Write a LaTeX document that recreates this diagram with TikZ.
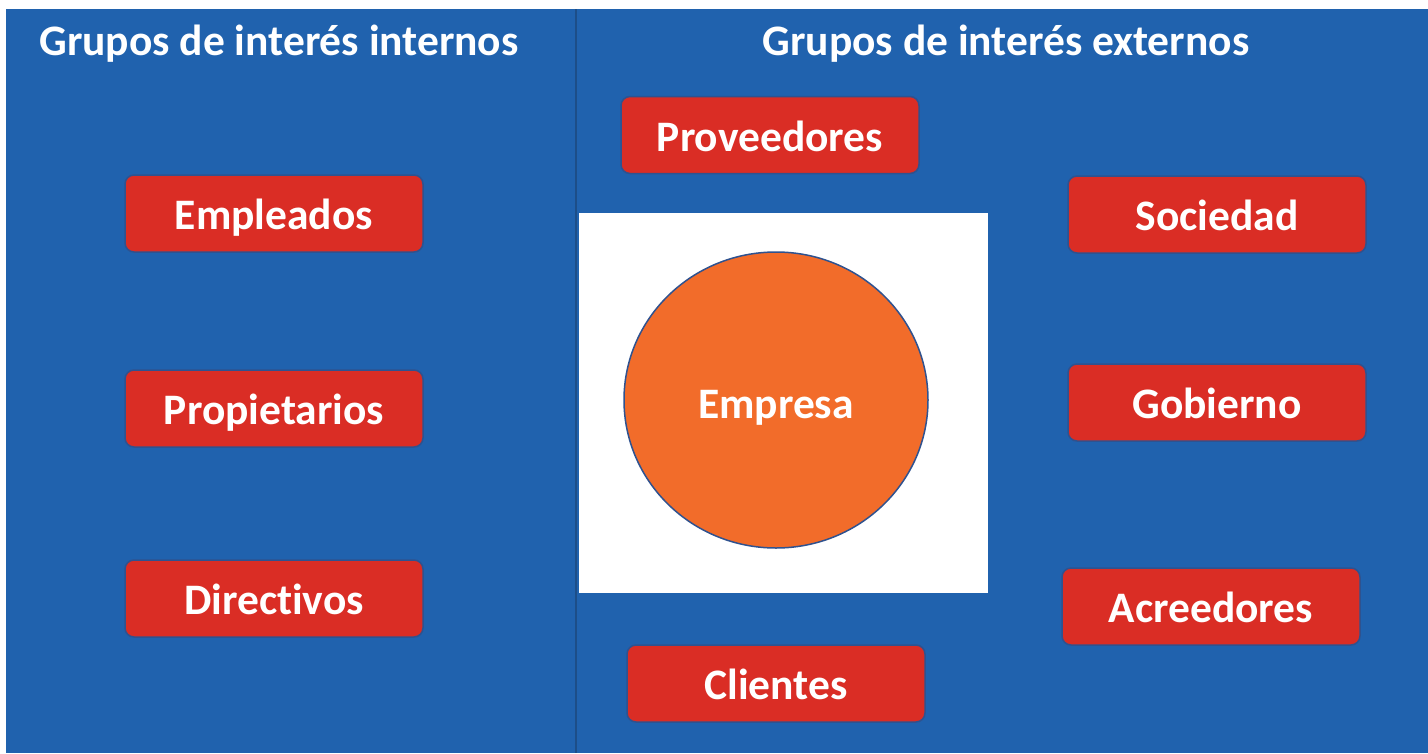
\documentclass[tikz,border=0pt]{standalone}
\usepackage{fontspec}
\setmainfont[Ligatures=NoCommon]{Carlito}
\usepackage{xcolor}
\usetikzlibrary{positioning, shapes.geometric}

\definecolor{fondo}{HTML}{2062AE}
\definecolor{rojo}{HTML}{DA2D25}
\definecolor{naranja}{HTML}{F26C2A}
\definecolor{borde}{HTML}{2F528F}
\definecolor{linea}{HTML}{1D4E88}

\begin{document}
\begin{tikzpicture}[x=1pt, y=-1pt,
    grupo/.style={draw=borde, line width=1.5pt, fill=rojo, rounded corners=9pt,
        minimum width=298pt, minimum height=77pt, text=white,
        text height=34pt, text depth=2pt,
        font=\bfseries\fontsize{43.5}{52}\selectfont},
    titulo/.style={anchor=base, text=white, font=\bfseries\fontsize{43.5}{52}\selectfont}]

    \useasboundingbox (0,0) rectangle (1428,753);

    % Background panel
    \fill[fondo] (6,9) rectangle (1428,753);
    \draw[linea, line width=2.5pt] (576,9) -- (576,753);

    % Titles
    \node[titulo] (tint) at (279,55) {Grupos de interés internos};
    \node[titulo] (text) at (1006,55) {Grupos de interés externos};

    % Company in the middle
    \fill[white] (579,213) rectangle (988,593);
    \node[ellipse, draw=borde, line width=1.5pt, fill=naranja,
        minimum width=304pt, minimum height=296pt] (empresa) at (776,400) {};
    \node[text=white, font=\bfseries\fontsize{43.5}{52}\selectfont,
        text height=34pt, text depth=2pt] (lempresa) at (776,402) {Empresa};

    % Internal groups
    \node[grupo] (empleados) at (274,213.5) {Empleados};
    \node[grupo] (propietarios) at (274,408.5) {Propietarios};
    \node[grupo] (directivos) at (274,598.5) {Directivos};

    % External groups
    \node[grupo] (proveedores) at (770,135) {Proveedores};
    \node[grupo] (sociedad) at (1217,214.5) {Sociedad};
    \node[grupo] (gobierno) at (1217,402.5) {Gobierno};
    \node[grupo] (acreedores) at (1211,606.5) {Acreedores};
    \node[grupo] (clientes) at (776,683.5) {Clientes};

\end{tikzpicture}
\end{document}
